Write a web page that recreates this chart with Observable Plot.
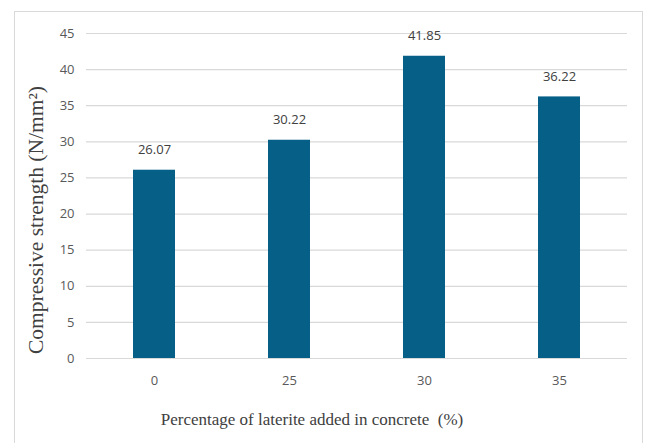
<!DOCTYPE html>
<html>
<head>
<meta charset="utf-8">
<script src="https://cdn.jsdelivr.net/npm/d3@7"></script>
<script src="https://cdn.jsdelivr.net/npm/@observablehq/plot@0.6"></script>
<style>
  html, body { margin: 0; padding: 0; background: #fff; }
  #wrap { position: relative; width: 648px; height: 443px; overflow: hidden; }
  #border { position: absolute; left: 14px; top: 11px; width: 629px; height: 460px; border: 1px solid #d9d9d9; box-sizing: border-box; }
  #chart { position: absolute; left: 0; top: 0; }
</style>
</head>
<body>
<div id="wrap"><div id="border"></div><div id="chart"></div></div>
<script>
const categories = ["0", "25", "30", "35"];
const values = [26.07, 30.22, 41.85, 36.22];
const labels = ["26.07", "30.22", "41.85", "36.22"];
const yTicks = [0, 5, 10, 15, 20, 25, 30, 35, 40, 45];

const data = categories.map((c, i) => ({cat: c, v: values[i], label: labels[i]}));
const numFont = "'Liberation Sans Narrow', 'Arial Narrow', 'Open Sans', sans-serif";

const chart = Plot.plot({
  width: 648,
  height: 443,
  marginLeft: 86,
  marginRight: 21,
  marginTop: 33,
  marginBottom: 85,
  style: {fontFamily: numFont, fontSize: "13px", color: "#595959", background: "transparent"},
  x: {domain: categories, paddingInner: 0.69, paddingOuter: 0.345, label: null},
  y: {domain: [0, 45], label: null},
  marks: [
    Plot.gridY(yTicks, {stroke: "#d9d9d9", strokeOpacity: 1, strokeWidth: 1.2}),
    Plot.axisY({ticks: yTicks, tickSize: 0, tickPadding: 12, label: null, fill: "#595959"}),
    Plot.axisX({tickSize: 0, tickPadding: 17, label: null, fill: "#595959"}),
    Plot.barY(data, {x: "cat", y: "v", fill: "#055f87"}),
    Plot.text(data, {x: "cat", y: "v", text: "label", dy: -20, fill: "#404040", fontSize: 13}),
    Plot.text(["Percentage of laterite added in concrete  (%)"], {
      frameAnchor: "bottom", dx: -45, dy: 66,
      fontFamily: "'Liberation Serif', 'Times New Roman', serif", fontSize: 17, fill: "#404040"
    }),
    Plot.text(["Compressive strength (N/mm²)"], {
      frameAnchor: "left", textAnchor: "middle", dx: -50, dy: 24, rotate: -90,
      fontFamily: "'Liberation Serif', 'Times New Roman', serif", fontSize: 21.5, fill: "#404040"
    })
  ]
});
document.getElementById("chart").appendChild(chart);
</script>
</body>
</html>
